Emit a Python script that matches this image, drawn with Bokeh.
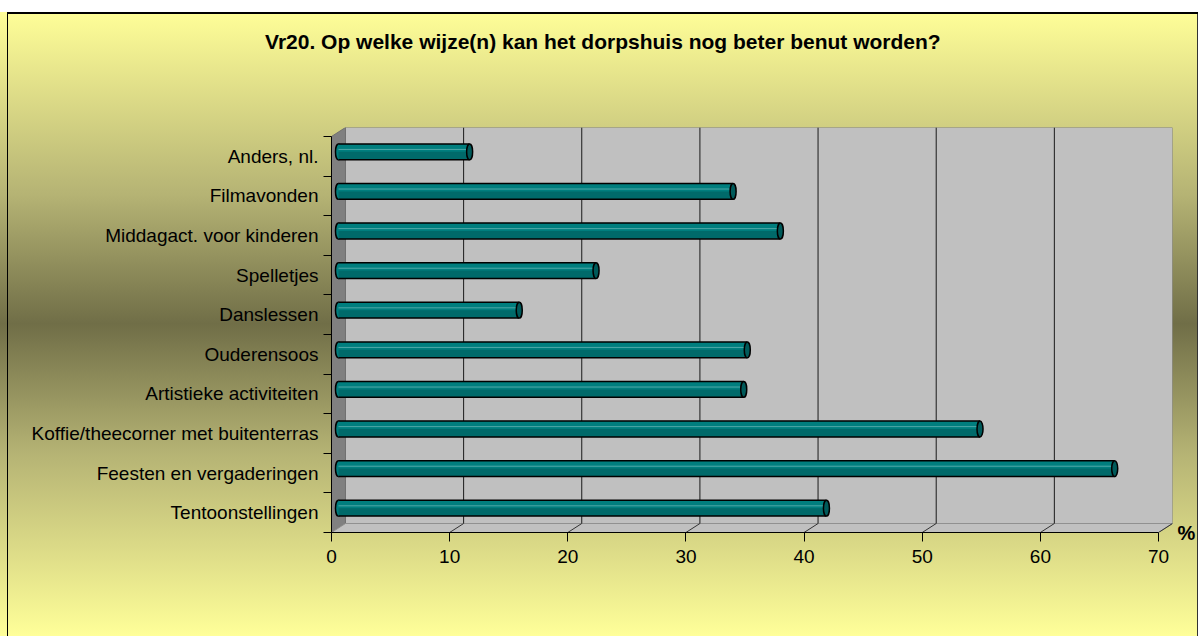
import numpy as np
from bokeh.plotting import figure
from bokeh.models import Range1d, FixedTicker, ColumnDataSource, LinearAxis
from bokeh.embed import file_html
from bokeh.resources import INLINE

# ---- data (bottom to top) ----
categories = ["Tentoonstellingen", "Feesten en vergaderingen",
              "Koffie/theecorner met buitenterras", "Artistieke activiteiten",
              "Ouderensoos", "Danslessen", "Spelletjes",
              "Middagact. voor kinderen", "Filmavonden", "Anders, nl."]
values = [41.3, 65.7, 54.3, 34.3, 34.6, 15.3, 21.8, 37.4, 33.4, 11.1]
x_ticks = [0, 10, 20, 30, 40, 50, 60, 70]
title_text = "Vr20. Op welke wijze(n) kan het dorpshuis nog beter benut worden?"
unit_text = "%"

# ---- 3D geometry (in data units) ----
XMAX = 70
dx = 14 / 11.843          # depth offset in x
dy = 9 / 39.6             # depth offset in y
bx = 0.5 * dx             # bar offset (mid depth)
by = 0.5 * dy
bh = 0.40                 # bar thickness

FONT = "Liberation Sans"

p = figure(width=1198, height=636, output_backend="svg", toolbar_location=None,
           x_range=Range1d(0, XMAX + dx), y_range=Range1d(-0.5, 9.5 + dy),
           min_border_left=331, min_border_right=24, min_border_top=127,
           min_border_bottom=104)
p.background_fill_color = None
p.border_fill_color = None
p.outline_line_color = None
p.xgrid.visible = False
p.ygrid.visible = False

p.styles = {
    "background": (
        "linear-gradient(#000,#000) 7px 12px / 1px 100% no-repeat, "
        "linear-gradient(#000,#000) 7px 12px / 100% 2px no-repeat, "
        "linear-gradient(#333,#333) 1197px 12px / 1px 100% no-repeat, "
        "linear-gradient(to bottom, #fff 0px, #fff 12px, #FFFE98 12px, "
        "#B5B374 195px, #706E47 324px, #B5B374 453px, #FFFF99 636px)"
    )
}

# back wall
p.quad(left=[dx], right=[XMAX + dx], bottom=[-0.5 + dy], top=[9.5 + dy],
       fill_color="#C0C0C0", line_color="#808080", line_width=1)
# side wall
p.patch([0, dx, dx, 0], [-0.5, -0.5 + dy, 9.5 + dy, 9.5],
        fill_color="#808080", line_color="#707070", line_width=1)
# floor
p.patch([0, XMAX, XMAX + dx, dx], [-0.5, -0.5, -0.5 + dy, -0.5 + dy],
        fill_color="#C0C0C0", line_color="#909090", line_width=1)

# grid lines on back wall
gx = np.array(x_ticks[1:-1], dtype=float)
p.segment(x0=gx + dx, y0=np.full(len(gx), -0.5 + dy), x1=gx + dx,
          y1=np.full(len(gx), 9.5 + dy), line_color="#1a1a1a", line_width=1)
# floor depth lines
fx = np.array(x_ticks[1:], dtype=float)
p.segment(x0=fx, y0=np.full(len(fx), -0.5), x1=fx + dx,
          y1=np.full(len(fx), -0.5 + dy), line_color="#333333", line_width=1)

# ---- bars (cylinders) ----
v = np.array(values, dtype=float)
yy = np.arange(len(categories)) + by
src = ColumnDataSource(dict(y=yy, left=np.full(len(v), bx), right=v + bx,
                            top=yy + bh / 2, bot=yy - bh / 2,
                            low=yy - bh / 4, hl=yy + 0.06))
p.ellipse(x="left", y="y", width=6, width_units="screen", height=bh, source=src,
          fill_color="#007E7E", line_color="black", line_width=1.5)
p.hbar(y="y", left="left", right="right", height=bh, source=src,
       fill_color="#007E7E", line_color=None)
p.hbar(y="low", left="left", right="right", height=bh / 2, source=src,
       fill_color="#006A6A", line_color=None)
p.segment(x0="left", y0="hl", x1="right", y1="hl", source=src,
          line_color="#4FA8A8", line_width=1)
p.segment(x0="left", y0="top", x1="right", y1="top", source=src,
          line_color="black", line_width=1.5)
p.segment(x0="left", y0="bot", x1="right", y1="bot", source=src,
          line_color="black", line_width=1.5)
p.ellipse(x="right", y="y", width=6, width_units="screen", height=bh, source=src,
          fill_color="#005A5A", line_color="black", line_width=1.5)

# ---- axes ----
ya = p.yaxis[0]
ya.ticker = FixedTicker(ticks=list(range(len(categories))),
                        minor_ticks=[k - 0.5 for k in range(len(categories) + 1)])
ya.major_label_overrides = {i: c for i, c in enumerate(categories)}
ya.bounds = (-0.5, 9.5)
ya.major_tick_out = 0
ya.major_tick_in = 0
ya.minor_tick_out = 8
ya.minor_tick_in = 0
ya.minor_tick_line_color = "black"
ya.axis_line_color = "black"
ya.major_label_standoff = 5
ya.major_label_text_font = FONT
ya.major_label_text_font_size = "19px"
ya.major_label_text_color = "black"

xa = p.xaxis[0]
xa.ticker = FixedTicker(ticks=x_ticks, minor_ticks=[])
xa.bounds = (0, XMAX)
xa.major_tick_out = 9
xa.major_tick_in = 0
xa.major_tick_line_color = "black"
xa.axis_line_color = "black"
xa.major_label_standoff = 8
xa.major_label_text_font = FONT
xa.major_label_text_font_size = "19px"
xa.major_label_text_color = "black"

# "%" unit label via a right axis with a single tick
p.extra_y_ranges = {"unit": Range1d(0, 1)}
ra = LinearAxis(y_range_name="unit", ticker=FixedTicker(ticks=[0], minor_ticks=[]))
ra.major_label_overrides = {0: unit_text}
ra.axis_line_color = None
ra.major_tick_line_color = None
ra.major_tick_out = 0
ra.major_tick_in = 0
ra.minor_tick_line_color = None
ra.major_label_standoff = 5
ra.major_label_text_font = FONT
ra.major_label_text_font_size = "20px"
ra.major_label_text_font_style = "bold"
ra.major_label_text_color = "black"
p.add_layout(ra, "right")

# ---- title: single labelled tick on an axis above (pixel range) ----
p.extra_x_ranges = {"title": Range1d(0, 843)}
ta = LinearAxis(x_range_name="title", ticker=FixedTicker(ticks=[272], minor_ticks=[]))
ta.major_label_overrides = {272: title_text}
ta.axis_line_color = None
ta.major_tick_line_color = None
ta.major_tick_out = 0
ta.major_tick_in = 0
ta.minor_tick_line_color = None
ta.major_label_standoff = 75
ta.major_label_text_font = FONT
ta.major_label_text_font_size = "21px"
ta.major_label_text_font_style = "bold"
ta.major_label_text_color = "black"
p.add_layout(ta, "above")

open("out.html", "w").write(file_html(p, INLINE))
